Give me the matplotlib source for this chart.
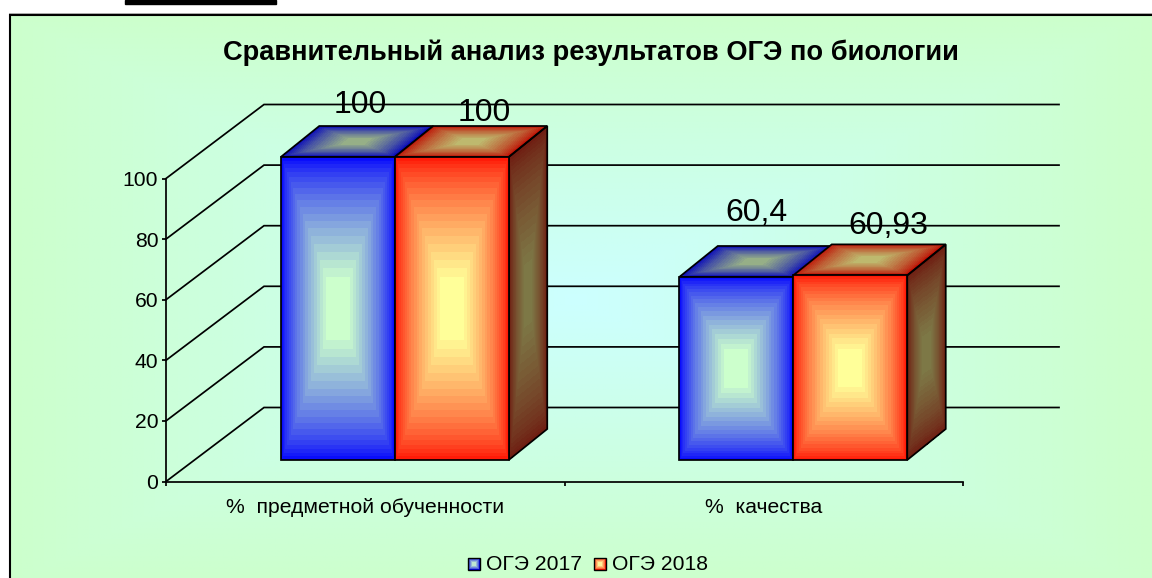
import matplotlib
matplotlib.use('Agg')
import matplotlib.pyplot as plt
import numpy as np
from matplotlib.patches import Polygon, Rectangle

plt.rcParams['font.family'] = ['Liberation Sans', 'DejaVu Sans']

title = 'Сравнительный анализ результатов ОГЭ по биологии'
categories = ['%  предметной обученности', '%  качества']
series_names = ['ОГЭ 2017', 'ОГЭ 2018']
values_2017 = [100, 60.4]
values_2018 = [100, 60.93]
value_labels_2017 = ['100', '60,4']
value_labels_2018 = ['100', '60,93']
y_ticks = [0, 20, 40, 60, 80, 100]

W, H = 1152, 578
PX = 398.5    # pixels per category on x
PY = 3.03     # pixels per value unit on y


def box_t(nx, ny, levels=20, gamma=0.7):
    # rectangular gradient: 0 at the edge, 1 in the centre, in visible bands
    u = np.abs(np.linspace(-1, 1, nx))
    v = np.abs(np.linspace(-1, 1, ny))
    t = 1 - np.maximum.outer(v, u)
    t = np.clip(t / 0.82, 0, 1) ** gamma
    return np.round(t * levels) / levels


def shade(t, edge, centre):
    edge = np.array(edge) / 255.0
    centre = np.array(centre) / 255.0
    return edge + t[..., None] * (centre - edge)


def face(ax, p00, p10, p01, p11, edge, centre, zorder=3):
    # p00 lower left, p10 lower right, p01 upper left, p11 upper right
    p00, p10, p01, p11 = map(np.array, (p00, p10, p01, p11))
    nx = max(int(abs(p10[0] - p00[0]) * PX), 4)
    ny = max(int(abs(p01[1] - p00[1]) * PY), 4)
    a = np.linspace(0, 1, nx + 1)
    b = np.linspace(0, 1, ny + 1)
    A, B = np.meshgrid(a, b)
    X = (1 - A) * (1 - B) * p00[0] + A * (1 - B) * p10[0] + (1 - A) * B * p01[0] + A * B * p11[0]
    Y = (1 - A) * (1 - B) * p00[1] + A * (1 - B) * p10[1] + (1 - A) * B * p01[1] + A * B * p11[1]
    C = shade(box_t(nx, ny), edge, centre)
    mesh = ax.pcolormesh(X, Y, C, shading='flat', zorder=zorder, clip_on=False)
    mesh.set_clip_on(False)
    ax.add_patch(Polygon([p00, p10, p11, p01], closed=True, fill=False, ec='black', lw=1.25,
                         zorder=zorder + 0.5, clip_on=False))


fig = plt.figure(figsize=(W / 100, H / 100), dpi=100, facecolor='white')

# page background, frame and legend live in a pixel axes
bg = fig.add_axes([0, 0, 1, 1])
bg.set_xlim(0, W)
bg.set_ylim(H, 0)
bg.axis('off')
xx = np.abs(np.linspace(10, W, 400) - 576) / 566
yy = np.abs(np.linspace(15, H, 200) - 300) / 285
tb = 1 - np.maximum.outer(yy, xx)
bg.imshow(shade(tb, (204, 255, 204), (204, 255, 255)), extent=(10, W, H, 15), aspect='auto', zorder=0)
bg.set_xlim(0, W)
bg.set_ylim(H, 0)
bg.plot([9.5, 9.5, W], [H, 14.5, 14.5], color='black', lw=1.5, zorder=1, solid_joinstyle='miter')
bg.plot([9, W], [13, 13], color='#a8a8a8', lw=0.7, zorder=1)
bg.add_patch(Rectangle((125, 0), 151, 4, color='black', zorder=1))
bg.text(591, 52.5, title, fontsize=19.6, fontweight='bold', ha='center', va='center', color='black')

swatches = [((0, 0, 235), (190, 230, 210)), ((255, 20, 0), (255, 240, 150))]
swatch_x = [467.5, 593.5]
text_x = [486, 612]
for name, (e, c), sx, tx in zip(series_names, swatches, swatch_x, text_x):
    bg.imshow(shade(box_t(12, 12, 5), e, c), extent=(sx, sx + 12, 570, 558), aspect='auto', zorder=2)
    bg.add_patch(Rectangle((sx, 558), 12, 12, fill=False, ec='black', lw=1, zorder=3))
    bg.text(tx, 564.5, name, fontsize=15.2, ha='left', va='center', color='black')
bg.set_xlim(0, W)
bg.set_ylim(H, 0)

# main axes sit on the front plane of the 3d box
ax = fig.add_axes([166 / W, 1 - 481.5 / H, 2 * PX / W, 303 / H])
ax.patch.set_alpha(0)
ax.set_xlim(0, 2)
ax.set_ylim(0, 100)
for s in ('top', 'right'):
    ax.spines[s].set_visible(False)
for s in ('left', 'bottom'):
    ax.spines[s].set_linewidth(1.25)
ax.set_yticks(y_ticks)
ax.set_xticks([0, 1, 2])
ax.set_xticklabels([])
ax.set_xticks([0.5, 1.5], minor=True)
ax.set_xticklabels(categories, minor=True, fontsize=15.2)
ax.tick_params(axis='x', which='major', length=3, width=1.25, direction='out')
ax.tick_params(axis='x', which='minor', length=0, pad=12)
ax.tick_params(axis='y', length=3, width=1.25, labelsize=15.2, pad=2.5)

# back wall lines and side wall diagonals
wall_dx = 98 / PX
wall_dy = 74 / PY
wall_len = 795 / PX
for v in y_ticks:
    ax.plot([0, wall_dx, wall_dx + wall_len], [v, v + wall_dy, v + wall_dy],
            color='black', lw=1.25, zorder=1, clip_on=False, solid_joinstyle='miter')

# bars
front_dx = 29.5 / PX
front_dy = 21.5 / PY
back_dx = front_dx + 38.5 / PX
back_dy = 52.5 / PY
bar_w = 114 / PX

colors_2017 = {'front': ((0, 0, 255), (204, 255, 204)),
               'top': ((0, 0, 190), (150, 175, 135))}
colors_2018 = {'front': ((255, 15, 0), (255, 255, 153)),
               'top': ((190, 10, 0), (190, 185, 110)),
               'side': ((110, 25, 15), (125, 120, 70))}

for i in range(len(categories)):
    c = i + 0.5
    v1, v2 = values_2017[i], values_2018[i]
    x0 = c + front_dx - bar_w
    x1 = c + front_dx
    x2 = c + front_dx + bar_w
    d = back_dx - front_dx
    # top faces, then side, then fronts
    face(ax, (x0, v1 + front_dy), (x1, v1 + front_dy), (x0 + d, v1 + back_dy), (x1 + d, v1 + back_dy),
         *colors_2017['top'], zorder=3)
    face(ax, (x1, v2 + front_dy), (x2, v2 + front_dy), (x1 + d, v2 + back_dy), (x2 + d, v2 + back_dy),
         *colors_2018['top'], zorder=3.6)
    face(ax, (x2, front_dy), (x2 + d, back_dy), (x2, v2 + front_dy), (x2 + d, v2 + back_dy),
         *colors_2018['side'], zorder=4)
    face(ax, (x0, front_dy), (x1, front_dy), (x0, v1 + front_dy), (x1, v1 + front_dy),
         *colors_2017['front'], zorder=5)
    face(ax, (x1, front_dy), (x2, front_dy), (x1, v2 + front_dy), (x2, v2 + front_dy),
         *colors_2018['front'], zorder=5.6)

# value labels, offsets from the top middle of each bar front, in pixels
offsets_2017 = [(23, 52), (20, 64)]
offsets_2018 = [(32, 44), (38, 49)]
for i in range(len(categories)):
    c = i + 0.5 + front_dx
    ax.annotate(value_labels_2017[i], (c - bar_w / 2, values_2017[i] + front_dy), xytext=offsets_2017[i],
                textcoords='offset pixels', fontsize=23, ha='center', va='center', zorder=7, annotation_clip=False)
    ax.annotate(value_labels_2018[i], (c + bar_w / 2, values_2018[i] + front_dy), xytext=offsets_2018[i],
                textcoords='offset pixels', fontsize=23, ha='center', va='center', zorder=7, annotation_clip=False)

fig.savefig('out.png', dpi=100)
